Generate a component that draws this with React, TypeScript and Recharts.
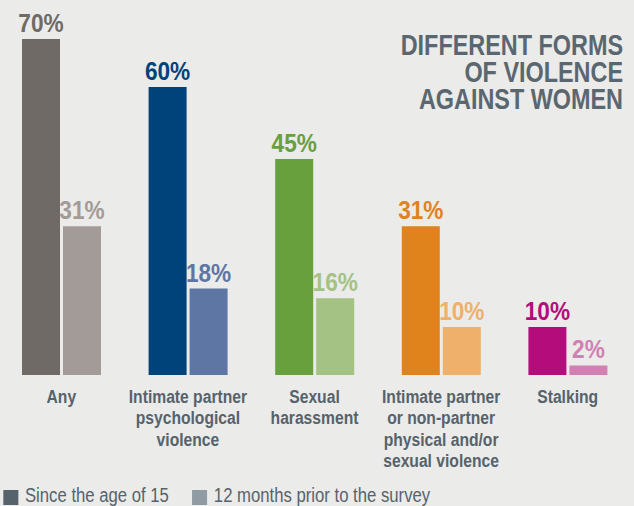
import { Bar, BarChart, Cell, LabelList, Legend, XAxis, YAxis } from 'recharts';

const categories = [
  'Any',
  'Intimate partner\npsychological\nviolence',
  'Sexual\nharassment',
  'Intimate partner\nor non-partner\nphysical and/or\nsexual violence',
  'Stalking'
];
const sinceAge15 = [70, 60, 45, 31, 10];
const past12Months = [31, 18, 16, 10, 2];
const darkColors = ['#6f6a65', '#00427a', '#67a03c', '#e0831d', '#b40c7b'];
const lightColors = ['#a39b98', '#5e76a4', '#a3c284', '#efb06c', '#d27fb2'];
const seriesNames = ['Since the age of 15', '12 months prior to the survey'];
const legendColors = ['#56636c', '#909ba3'];
const titleLines = ['DIFFERENT FORMS', 'OF VIOLENCE', 'AGAINST WOMEN'];

const data = categories.map((name, i) => ({
  name,
  since15: sinceAge15[i],
  last12: past12Months[i]
}));

// no condensed face available, so Liberation Sans gets squeezed horizontally
const FONT = "'Liberation Sans', Arial, sans-serif";
const SLATE = '#56636c';
const LEGEND_SQUEEZE = 0.835;

function CategoryTick({ x, y, payload }: any) {
  const lines = String(payload.value).split('\n');
  return (
    <text
      transform={`translate(${x},${y + 28}) scale(0.87,1)`}
      textAnchor="middle"
      fill={SLATE}
      fontFamily={FONT}
      fontWeight="bold"
      fontSize={18}
    >
      {lines.map((line, i) => (
        <tspan key={i} x={0} dy={i === 0 ? 0 : 21.5}>
          {line}
        </tspan>
      ))}
    </text>
  );
}

const valueLabel = (colors: string[]) => (props: any) => {
  const { x, y, width, value, index } = props;
  const cx = Number(x) + Number(width) / 2;
  return (
    <text
      transform={`translate(${cx},${Number(y) - 7}) scale(0.87,1)`}
      textAnchor="middle"
      fill={colors[index]}
      fontFamily={FONT}
      fontWeight="bold"
      fontSize={26}
    >
      {value}%
    </text>
  );
};

function LegendContent() {
  const k = LEGEND_SQUEEZE;
  return (
    <div
      style={{
        display: 'flex',
        height: 20,
        width: 634 / k,
        fontFamily: FONT,
        fontSize: 20,
        lineHeight: '20px',
        color: SLATE,
        transform: `scaleX(${k})`,
        transformOrigin: 'left top',
        whiteSpace: 'nowrap'
      }}
    >
      {seriesNames.map((name, i) => (
        <div key={name} style={{ display: 'flex', marginLeft: (i === 0 ? 3 : 23) / k }}>
          <span style={{ width: 15 / k, height: 15, marginTop: 5, marginRight: 7 / k, background: legendColors[i] }} />
          <span>{name}</span>
        </div>
      ))}
    </div>
  );
}

export default function App() {
  return (
    <div style={{ position: 'relative', width: 634, height: 506, background: '#ebebe9', overflow: 'hidden' }}>
      <style>{'body{margin:0}'}</style>
      <BarChart
        width={634}
        height={506}
        data={data}
        barSize={38}
        barGap={3}
        margin={{ top: 39, right: 3, bottom: 0, left: -2 }}
      >
        <XAxis dataKey="name" axisLine={false} tickLine={false} tickSize={0} tickMargin={0} height={111} interval={0} tick={<CategoryTick />} />
        <YAxis hide domain={[0, 70]} allowDataOverflow />
        <Legend
          content={<LegendContent />}
          wrapperStyle={{ left: 0, top: 485, bottom: 'auto', width: 634, overflow: 'visible' }}
        />
        <Bar dataKey="since15" name={seriesNames[0]} isAnimationActive={false}>
          {data.map((d, i) => (
            <Cell key={d.name} fill={darkColors[i]} />
          ))}
          <LabelList dataKey="since15" content={valueLabel(darkColors)} />
        </Bar>
        <Bar dataKey="last12" name={seriesNames[1]} isAnimationActive={false}>
          {data.map((d, i) => (
            <Cell key={d.name} fill={lightColors[i]} />
          ))}
          <LabelList dataKey="last12" content={valueLabel(lightColors)} />
        </Bar>
      </BarChart>
      <div
        style={{
          position: 'absolute',
          top: 31,
          right: 11,
          textAlign: 'right',
          fontFamily: FONT,
          fontWeight: 'bold',
          fontSize: 30,
          lineHeight: '27px',
          color: '#5a6770',
          transform: 'scaleX(0.78)',
          transformOrigin: 'right top',
          whiteSpace: 'nowrap'
        }}
      >
        {titleLines.map((line) => (
          <div key={line}>{line}</div>
        ))}
      </div>
    </div>
  );
}
